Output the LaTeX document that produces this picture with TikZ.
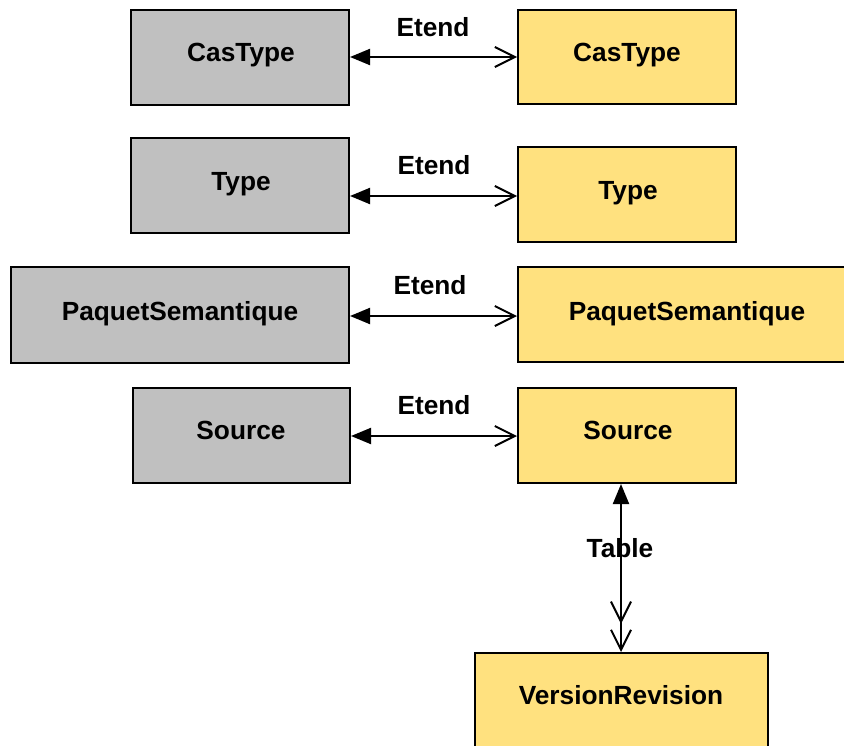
\documentclass[tikz,border=0pt]{standalone}
\usepackage{fontspec}
\setmainfont{Liberation Sans}
\usetikzlibrary{arrows.meta,fit}
\definecolor{grayfill}{HTML}{C0C0C0}
\definecolor{yellowfill}{HTML}{FFE17F}
\begin{document}
\begin{tikzpicture}[x=0.75pt,y=-0.75pt,
 box/.style={draw=black,line width=1.5pt,inner sep=0pt},
 gbox/.style={box,fill=grayfill},
 ybox/.style={box,fill=yellowfill},
 txt/.style={font=\fontsize{19.7}{23}\selectfont\bfseries,inner sep=0pt,anchor=base},
 rel/.style={line width=1.5pt,{Triangle[length=15pt,width=12pt]}-{Straight Barb[length=15pt,width=15pt]}},
 relv/.style={line width=1.5pt,{Triangle[length=15pt,width=12pt]}-{Straight Barb[length=15pt,width=15pt,sep=3.75pt]Straight Barb[length=15pt,width=15pt,sep=0pt]}}
]
\useasboundingbox (0,0) rectangle (844,746);
\clip (0,0) rectangle (844,746);
% boxes
\node[gbox, fit={(131,10)(349,105)}] (g1) {};
\node[ybox, fit={(518,10)(736,104)}] (y1) {};
\node[gbox, fit={(131,138)(349,233)}] (g2) {};
\node[ybox, fit={(518,147)(736,242)}] (y2) {};
\node[gbox, fit={(11,267)(349,363)}] (g3) {};
\node[ybox, fit={(518,267)(860,362)}] (y3) {};
\node[gbox, fit={(133,388)(350,483)}] (g4) {};
\node[ybox, fit={(518,388)(736,483)}] (y4) {};
\node[ybox, fit={(475,653)(768,770)}] (vr) {};
% texts
\node[txt] (tg1) at (241,61.5) {CasType};
\node[txt] (ty1) at (627,61.5) {CasType};
\node[txt] (tg2) at (241,190.5) {Type};
\node[txt] (ty2) at (628,199.5) {Type};
\node[txt] (tg3) at (180,320.5) {PaquetSemantique};
\node[txt] (ty3) at (687,320.5) {PaquetSemantique};
\node[txt] (tg4) at (241,439.5) {Source};
\node[txt] (ty4) at (628,439.5) {Source};
\node[txt] (tvr) at (621,704.5) {VersionRevision};
% connectors
\draw[rel] (g1.east |- y1.west) -- (y1.west);
\draw[rel] (g2.east |- 0,196) coordinate (c2) -- (y2.west |- c2);
\draw[rel] (g3.east |- 0,316) coordinate (c3) -- (y3.west |- c3);
\draw[rel] (g4.east |- 0,436) coordinate (c4) -- (y4.west |- c4);
\draw[relv] (y4.south -| 621,0) coordinate (c5) -- (vr.north -| c5);
% labels
\node[txt] (l1) at (433,36.5) {Etend};
\node[txt] (l2) at (434,174.5) {Etend};
\node[txt] (l3) at (430,294.5) {Etend};
\node[txt] (l4) at (434,414.5) {Etend};
\node[txt] (l5) at (620,557.5) {Table};
\end{tikzpicture}
\end{document}
